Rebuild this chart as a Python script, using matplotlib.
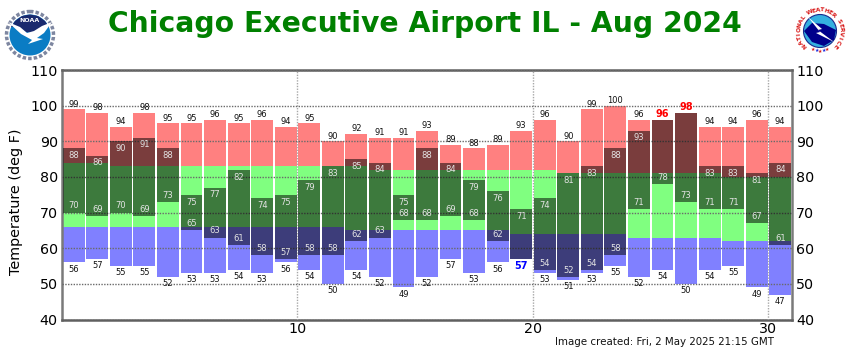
import numpy as np
import matplotlib
matplotlib.use("Agg")
import matplotlib.pyplot as plt
from matplotlib.patches import Circle, Polygon

plt.rcParams['font.family'] = ['DejaVu Sans']

days = np.arange(1, 32)
record_high = [99, 98, 94, 98, 95, 95, 96, 95, 96, 94, 95, 90, 92, 91, 91, 93, 89, 88, 89, 93, 96, 90, 99, 100, 96, 96, 98, 94, 94, 96, 94]
record_low = [56, 57, 55, 55, 52, 53, 53, 54, 53, 56, 54, 50, 54, 52, 49, 52, 57, 53, 56, 57, 53, 51, 53, 55, 52, 54, 50, 54, 55, 49, 47]
normal_high = [84, 84, 83, 83, 83, 83, 83, 83, 83, 83, 83, 83, 83, 82, 82, 82, 82, 82, 82, 82, 82, 81, 81, 81, 81, 81, 81, 81, 80, 80, 80]
normal_low = [66, 66, 66, 66, 66, 66, 66, 66, 66, 66, 66, 66, 65, 65, 65, 65, 65, 65, 65, 64, 64, 64, 64, 64, 63, 63, 63, 63, 62, 62, 62]
obs_high = [88, 86, 90, 91, 88, 75, 77, 82, 74, 75, 79, 83, 85, 84, 75, 88, 84, 79, 76, 71, 74, 81, 83, 88, 93, 96, 98, 83, 83, 81, 84]
obs_low = [70, 69, 70, 69, 73, 65, 63, 61, 58, 57, 58, 58, 62, 63, 68, 68, 69, 68, 62, 57, 54, 52, 54, 58, 71, 78, 73, 71, 71, 67, 61]
yticks = [40, 50, 60, 70, 80, 90, 100, 110]
xticks = [10, 20, 30]

record_high = np.array(record_high)
record_low = np.array(record_low)
normal_high = np.array(normal_high)
normal_low = np.array(normal_low)
obs_high = np.array(obs_high)
obs_low = np.array(obs_low)

fig = plt.figure(figsize=(8.5, 3.5), dpi=100)
ax = fig.add_axes([62 / 850, 1 - 319.5 / 350, 730 / 850, 249.5 / 350])

x = days - 0.5
w = 0.93
ax.bar(x, record_high - normal_high, w, bottom=normal_high, color='#ff8080', zorder=2)
ax.bar(x, normal_high - normal_low, w, bottom=normal_low, color='#80ff80', zorder=2)
ax.bar(x, normal_low - record_low, w, bottom=record_low, color='#8080ff', zorder=2)
ax.bar(x, obs_high - obs_low, w, bottom=obs_low, color='black', alpha=0.52, zorder=3)

ax.set_xlim(0, 31)
ax.set_ylim(40, 110)
ax.set_yticks(yticks)
ax.set_xticks(xticks)
ax.tick_params(axis='both', length=0, labelsize=10.3, pad=3)
ax.tick_params(axis='x', pad=2)
ax.tick_params(axis='y', right=True, labelright=True)
ax.set_ylabel('Temperature (deg F)', fontsize=10.4)
ax.yaxis.set_label_coords(-39 / 730, (319.5 - 201.5) / 249.5)
ax.grid(True, axis='y', color='#6a6a6a', linestyle=(0, (1, 1)), linewidth=1, zorder=4)
ax.grid(True, axis='x', color='#a8a8a8', linestyle=(0, (1, 1)), linewidth=1, zorder=4)
ax.set_axisbelow(False)
for side in ax.spines:
    ax.spines[side].set_color('#7a7a7a')
    ax.spines[side].set_linewidth(1.8)
ax.spines['top'].set_color('#606060')
ax.spines['bottom'].set_color('#606060')

for i, d in enumerate(x):
    # record high, red and bold when the day tied it
    if obs_high[i] >= record_high[i]:
        ax.annotate(str(record_high[i]), (d, record_high[i]), xytext=(0, 0.5), textcoords='offset points',
                    ha='center', va='bottom', fontsize=7, fontweight='bold', color='#ff0000', zorder=6)
    else:
        ax.annotate(str(record_high[i]), (d, record_high[i]), xytext=(0, 0.5), textcoords='offset points',
                    ha='center', va='bottom', fontsize=6, color='#111111', zorder=6)
        ax.annotate(str(obs_high[i]), (d, obs_high[i]), xytext=(0, -2), textcoords='offset points',
                    ha='center', va='top', fontsize=6, color='#e4e4e4', zorder=6)
    if obs_low[i] <= record_low[i]:
        ax.annotate(str(record_low[i]), (d, record_low[i]), xytext=(0, -1.5), textcoords='offset points',
                    ha='center', va='top', fontsize=7, fontweight='bold', color='#0000ff', zorder=6)
    else:
        ax.annotate(str(record_low[i]), (d, record_low[i]), xytext=(0, -1.5), textcoords='offset points',
                    ha='center', va='top', fontsize=6, color='#111111', zorder=6)
        ax.annotate(str(obs_low[i]), (d, obs_low[i]), xytext=(0, 1.5), textcoords='offset points',
                    ha='center', va='bottom', fontsize=6, color='#e4e4e4', zorder=6)

# overlay in pixel coordinates for title and logos
over = fig.add_axes([0, 0, 1, 1], zorder=-1)
over.set_xlim(0, 850)
over.set_ylim(350, 0)
over.axis('off')

over.text(424.5, 24, 'Chicago Executive Airport IL - Aug 2024', ha='center', va='center',
          fontsize=20.3, fontweight='bold', color='#008000')
over.text(555, 342, 'Image created: Fri, 2 May 2025 21:15 GMT', ha='left', va='center',
          fontsize=7.4, color='#111111')

# NOAA logo
over.add_patch(Circle((30, 35), 23.5, facecolor='white', edgecolor='#7d86a0', linewidth=2.5, linestyle=(0, (1, 0.6))))
over.add_patch(Circle((30, 35), 20.5, facecolor='#0a7cc4', edgecolor='none'))
over.add_patch(Polygon([(11, 27), (15, 21), (22, 16), (30, 14.5), (38, 16), (45, 21), (49, 27), (41, 28), (34, 33), (26, 32), (19, 27)],
                       facecolor='#1a2a6e', edgecolor='none'))
over.add_patch(Polygon([(8, 22), (20, 27), (27, 33), (34, 31), (42, 26), (52, 22), (44, 33), (37, 38), (43, 39), (28, 44), (32, 40), (21, 34)],
                       facecolor='white', edgecolor='none'))
over.text(30, 21, 'NOAA', ha='center', va='center', fontsize=4.5, fontweight='bold', color='white')

# NWS logo
over.add_patch(Circle((820, 31), 16.5, facecolor='#35b0e0', edgecolor='#1a2a8e', linewidth=0.8))
over.add_patch(Polygon([(804, 31), (812, 23), (824, 24), (836, 30), (834, 40), (824, 46), (812, 42)],
                       facecolor='#00008b', edgecolor='none'))
over.add_patch(Polygon([(808, 17), (822, 29), (818, 30), (834, 42), (816, 33), (820, 32)],
                       facecolor='white', edgecolor='none'))
letters = 'NATIONAL WEATHER SERVICE'
angles = np.linspace(222, -42, len(letters))
for ch, ang in zip(letters, angles):
    a = np.deg2rad(ang)
    over.text(820 + 21 * np.cos(a), 31 - 21 * np.sin(a), ch, ha='center', va='center',
              fontsize=4.3, fontweight='bold', color='#d81818', rotation=ang - 90)
for ang, col in zip([250, 260, 270, 280, 290], ['#d81818', '#1a2ae0', '#d81818', '#1a2ae0', '#d81818']):
    a = np.deg2rad(ang)
    over.text(820 + 20 * np.cos(a), 31 - 20 * np.sin(a), '\u2605', ha='center', va='center',
              fontsize=3.5, color=col)

fig.savefig('out.png', dpi=100)
